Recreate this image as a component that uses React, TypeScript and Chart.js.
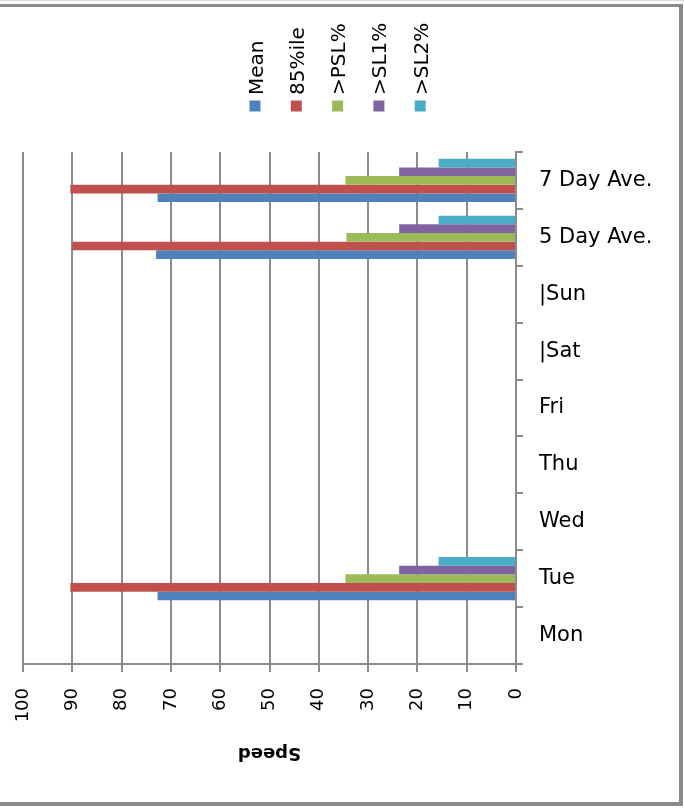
import React, { useEffect, useRef } from "react";
import { Chart, registerables } from "chart.js";

Chart.register(...registerables);

// ---- data (bottom-to-top category order as in the picture) ----
const categories = ["Mon", "Tue", "Wed", "Thu", "Fri", "|Sat", "|Sun", "5 Day Ave.", "7 Day Ave."];
const seriesNames = ["Mean", "85%ile", ">PSL%", ">SL1%", ">SL2%"];
const seriesColors = ["#4F81BD", "#C0504D", "#9BBB59", "#8064A2", "#4BACC6"];
const meanValues = [null, 72.7, null, null, null, null, null, 73.0, 72.7];
const p85Values = [null, 90.4, null, null, null, null, null, 90.0, 90.4];
const pslValues = [null, 34.6, null, null, null, null, null, 34.4, 34.6];
const sl1Values = [null, 23.7, null, null, null, null, null, 23.7, 23.7];
const sl2Values = [null, 15.7, null, null, null, null, null, 15.7, 15.7];
const xMin = 0;
const xMax = 100;
const xStep = 10;
const axisTitle = "Speed";

const FONT = "'DejaVu Sans', sans-serif";
const GRID = "#8c8c8c";

export default function App() {
  const ref = useRef<HTMLCanvasElement | null>(null);

  useEffect(() => {
    if (!ref.current) return;
    const seriesValues = [meanValues, p85Values, pslValues, sl1Values, sl2Values];
    // chart draws top-to-bottom: reverse categories, and put last series first (top of group)
    const labels = [...categories].reverse();
    const datasets = seriesNames
      .map((name, i) => ({
        label: name,
        data: [...seriesValues[i]].reverse(),
        backgroundColor: seriesColors[i],
        borderWidth: 0,
        categoryPercentage: 0.76,
        barPercentage: 1.0,
      }))
      .reverse();

    const decor = {
      id: "decor",
      afterDraw(chart: any) {
        const ctx = chart.ctx as CanvasRenderingContext2D;
        ctx.save();
        // frame
        ctx.fillStyle = "#dcdcdc";
        ctx.fillRect(0, 0, 684, 1);
        ctx.fillStyle = "#8a8a8a";
        ctx.fillRect(0, 4, 683, 3);
        ctx.fillRect(679, 4, 4, 802);
        ctx.fillRect(0, 802, 683, 4);
        // legend
        const x0 = 255;
        const dx = 41.3;
        seriesNames.forEach((name, i) => {
          const cx = x0 + dx * i;
          ctx.fillStyle = seriesColors[i];
          ctx.fillRect(cx - 5.5, 100.5, 11, 11);
          ctx.save();
          ctx.translate(cx + 7.5, 95);
          ctx.rotate(-Math.PI / 2);
          ctx.fillStyle = "#000";
          ctx.font = `20px ${FONT}`;
          ctx.textAlign = "left";
          ctx.textBaseline = "alphabetic";
          ctx.fillText(name, 0, 0);
          ctx.restore();
        });
        // axis title, upside down
        const area = chart.chartArea;
        ctx.save();
        ctx.translate((area.left + area.right) / 2, 753);
        ctx.rotate(Math.PI);
        ctx.fillStyle = "#000";
        ctx.font = `bold 18px ${FONT}`;
        ctx.textAlign = "center";
        ctx.textBaseline = "middle";
        ctx.fillText(axisTitle, 0, 0);
        ctx.restore();
        ctx.restore();
      },
    };

    const chart = new Chart(ref.current, {
      type: "bar",
      data: { labels, datasets },
      options: {
        indexAxis: "y",
        responsive: false,
        animation: false,
        events: [],
        layout: { padding: { top: 152, left: 23, right: 0, bottom: 0 } },
        plugins: { legend: { display: false }, tooltip: { enabled: false }, title: { display: false } },
        scales: {
          x: {
            type: "linear",
            min: xMin,
            max: xMax,
            reverse: true,
            position: "bottom",
            ticks: {
              stepSize: xStep,
              minRotation: 90,
              maxRotation: 90,
              autoSkip: false,
              padding: 16,
              color: "#000",
              font: { family: FONT, size: 18 },
            },
            grid: { color: GRID, lineWidth: 2, tickLength: 8, drawOnChartArea: true, drawTicks: true },
            border: { display: true, color: GRID, width: 2 },
            afterFit: (s: any) => {
              s.height = 146;
            },
          },
          y: {
            type: "category",
            position: "right",
            offset: true,
            ticks: { padding: 16, color: "#000", font: { family: FONT, size: 21 }, autoSkip: false },
            grid: { offset: true, drawOnChartArea: false, drawTicks: true, tickLength: 7, color: GRID, lineWidth: 2 },
            border: { display: true, color: GRID, width: 2 },
            afterFit: (s: any) => {
              s.width = 168;
            },
          },
        },
      },
      plugins: [decor],
    } as any);

    return () => chart.destroy();
  }, []);

  return (
    <canvas
      ref={ref}
      width={684}
      height={810}
      style={{ position: "fixed", left: 0, top: 0, width: 684, height: 810, display: "block", background: "#fff" }}
    />
  );
}
